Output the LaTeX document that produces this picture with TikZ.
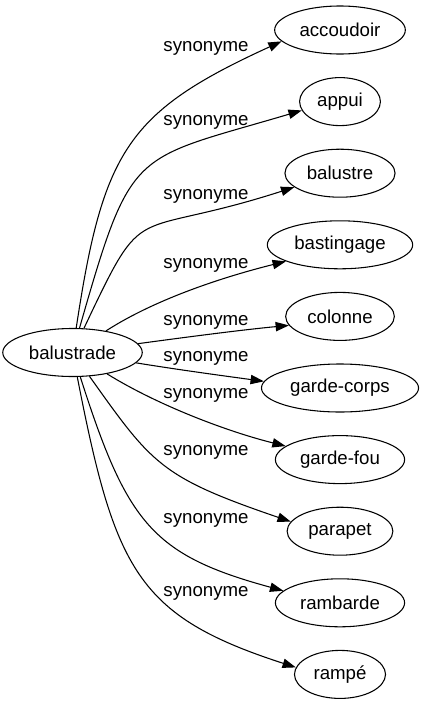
\documentclass[tikz,border=0pt]{standalone}
\usepackage{fontspec}
\setmainfont{Liberation Sans}
\usetikzlibrary{shapes.geometric,arrows.meta}

\begin{document}
\begin{tikzpicture}[x=0.75pt,y=-0.75pt,
  wordnode/.style={ellipse,draw,line width=0.8pt,minimum height=36pt,inner xsep=4.3pt,font=\fontsize{14pt}{16pt}\selectfont},
  synlabel/.style={inner sep=0pt,font=\fontsize{14pt}{16pt}\selectfont},
  synedge/.style={line width=0.8pt,-{Triangle[length=10pt,width=7pt]}}]
\useasboundingbox (0,0) rectangle (422,707);
\node [wordnode] (balustrade) at (72.5,352.5) {balustrade};
  \foreach \word/\txt/\pos in {accoudoir/accoudoir/0,appui/appui/1,balustre/balustre/2,bastingage/bastingage/3,colonne/colonne/4,gardecorps/garde-corps/5,gardefou/garde-fou/6,parapet/parapet/7,rambarde/rambarde/8,rampe/rampé/9}
  {  \node [wordnode] (\word) at (340,30+71.6*\pos) {\txt};}
% synonyme edges, bezier controls
  \foreach \word/\ca/\cb/\tip/\ly in {accoudoir/{103,151}/{127,112}/191/48,appui/{132,145}/{131,161}/193/122,balustre/{147,195}/{127,241}/197/196,bastingage/{157,298}/{227,276}/197/265,colonne/{180,338}/{240,330}/190/322,gardecorps/{180,370}/{225,376}/175/358,gardefou/{159,406}/{229,432}/166/395,parapet/{152,464}/{160,477}/169/452,rambarde/{127,523}/{152,555}/168/520,rampe/{115,570}/{137,616}/171/593}
  {  \draw [synedge] (balustrade) .. controls (\ca) and (\cb) .. (\word.\tip);
     \node [synlabel] (lbl-\word) at (206,\ly) {synonyme};}
\end{tikzpicture}
\end{document}
